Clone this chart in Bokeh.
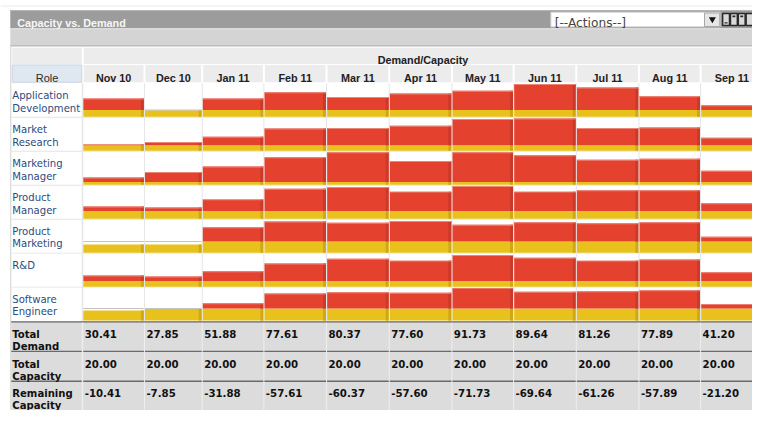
from bokeh.plotting import figure
from bokeh.models import Range1d
from bokeh.core.properties import value
from bokeh.embed import file_html
from bokeh.resources import INLINE

# ---------------- data ----------------
months = ["Nov 10", "Dec 10", "Jan 11", "Feb 11", "Mar 11", "Apr 11",
          "May 11", "Jun 11", "Jul 11", "Aug 11", "Sep 11"]
roles = ["Application Development", "Market Research", "Marketing Manager",
         "Product Manager", "Product Marketing", "R&D", "Software Engineer"]

app_dev = [7.1, 2.5, 7.1, 9.5, 7.7, 9.0, 10.1, 12.7, 11.4, 8.0, 4.5]
market_research = [2.4, 3.4, 5.4, 8.6, 8.8, 9.7, 12.3, 12.5, 8.8, 9.0, 5.0]
marketing_manager = [2.8, 4.9, 7.1, 10.7, 12.6, 9.2, 12.6, 11.4, 9.7, 10.1, 5.4]
product_manager = [4.7, 4.3, 7.5, 11.6, 12.3, 10.5, 12.7, 10.5, 11.0, 11.0, 6.0]
product_marketing = [3.2, 3.2, 9.9, 12.1, 11.6, 12.3, 10.8, 11.8, 11.4, 11.8, 6.2]
rnd = [4.3, 3.9, 6.0, 9.0, 10.8, 10.1, 12.3, 11.2, 10.1, 10.5, 5.6]
software_engineer = [3.9, 4.5, 6.7, 10.5, 11.0, 10.8, 12.7, 11.2, 11.4, 11.8, 6.4]
role_capacity = [2.6, 2.1, 1.1, 3.0, 4.3, 2.2, 4.7]

total_demand = [30.41, 27.85, 51.88, 77.61, 80.37, 77.60, 91.73, 89.64, 81.26, 77.89, 41.20]
total_capacity = [20.00, 20.00, 20.00, 20.00, 20.00, 20.00, 20.00, 20.00, 20.00, 20.00, 20.00]
remaining_capacity = [round(c - d, 2) for c, d in zip(total_capacity, total_demand)]

role_demand = [app_dev, market_research, marketing_manager, product_manager,
               product_marketing, rnd, software_engineer]

# ---------------- layout ----------------
X_EDGES = [84, 147, 206, 269, 333, 397, 461, 524, 588, 652, 715, 779]
ROW_TOP0 = 86.0
ROW_H = 35.3
PX_PER_UNIT = 2.675

RED = "#e4412f"
RED_DARK = "#c93a2b"
RED_HI = "#ee8677"
YEL = "#e9c11d"
YEL_DARK = "#cfa817"
GRID = "#e4e4e4"

p = figure(width=752, height=410, output_backend="svg", toolbar_location=None,
           x_range=Range1d(0, 768), y_range=Range1d(426, 0),
           x_axis_type=None, y_axis_type=None, min_border=0)
p.outline_line_color = None
p.grid.visible = False
p.background_fill_color = "white"
p.border_fill_color = "white"


def box(l, r, t, b, color, **kw):
    p.quad(left=[l], right=[r], top=[t], bottom=[b], fill_color=color,
           line_color=None, **kw)


# page top and title bar
box(0, 768, 5.2, 6.2, "#ececec")
box(10, 768, 10, 29, "#9c9c9c")
box(10, 768, 10, 11, "#b4b4b4")
box(10, 768, 29, 47, "#d4d4d4")
box(10, 768, 29, 30, "#e6e6e6")
box(10, 768, 46.5, 47.8, "#b5b5b5")

p.text(x=[17], y=[23.5], text=["Capacity vs. Demand"], text_color="#f7f7f7",
       text_font=value("Liberation Sans"), text_font_size="10.8px",
       text_font_style="bold", text_baseline="alphabetic")

# actions dropdown and window icons
p.quad(left=[562], right=[735], top=[12], bottom=[27.5], fill_color="white",
       line_color="#c4c4c4", line_width=1)
p.quad(left=[719], right=[734.5], top=[13], bottom=[27], fill_color="#e6e6e6",
       line_color="#a8a8a8", line_width=1)
p.scatter(x=[727], y=[19.5], marker="inverted_triangle", size=7,
          fill_color="#111111", line_color=None)
p.text(x=[566], y=[23.5], text=["[--Actions--]"], text_color="#444444",
       text_font=value("DejaVu Sans"), text_font_size="12.2px",
       text_baseline="alphabetic")
for l in [737.5, 745.5, 753.5, 761.5]:
    p.quad(left=[l], right=[l + 7], top=[13.5], bottom=[26], fill_color="#d9d9d9",
           line_color="#2a2a2a", line_width=1.5)
box(739.5, 742.5, 22.5, 24, "#2a2a2a")
box(747.5, 750.5, 15.5, 17.5, "#2a2a2a")
box(755.5, 758.5, 15.5, 17.5, "#2a2a2a")

# header cells
box(12, 83, 49, 66, "#ececec")
box(85, 768, 49, 66, "#ececec")
p.quad(left=[12], right=[83], top=[67], bottom=[85], fill_color="#dfe7f1",
       line_color="#cbd5e2", line_width=1)
hl = [X_EDGES[j] + 1 for j in range(len(months))]
hr = [X_EDGES[j + 1] - 1 for j in range(len(months))]
p.quad(left=hl, right=hr, top=[67] * len(months), bottom=[85] * len(months),
       fill_color="#ececec", line_color=None)

p.text(x=[(X_EDGES[0] + X_EDGES[-1]) / 2], y=[62.3], text=["Demand/Capacity"],
       text_color="#222222", text_font=value("Liberation Sans"),
       text_font_size="10.8px", text_font_style="bold", text_align="center",
       text_baseline="alphabetic")
p.text(x=[47.5], y=[80.7], text=["Role"], text_color="#2b2b2b",
       text_font=value("Liberation Sans"), text_font_size="11px",
       text_align="center", text_baseline="alphabetic")
p.text(x=[(X_EDGES[j] + X_EDGES[j + 1]) / 2 for j in range(len(months))],
       y=[81] * len(months), text=months, text_color="#222222",
       text_font=value("Liberation Sans"), text_font_size="10.8px",
       text_font_style="bold", text_align="center", text_baseline="alphabetic")

# data grid
n_rows = len(roles)
row_tops = [ROW_TOP0 + i * ROW_H for i in range(n_rows + 1)]
box(10, 11, 47.8, 426, "#d0d0d0")
for t in row_tops[1:-1]:
    box(11, 768, t - 0.5, t + 0.5, GRID)
for xe in [83.5] + X_EDGES[:-1]:
    box(xe - 0.5, xe + 0.5, ROW_TOP0, row_tops[-1], GRID)

# bars
red = dict(l=[], r=[], t=[], b=[])
redhi = dict(l=[], r=[], t=[], b=[])
reddk = dict(l=[], r=[], t=[], b=[])
yel = dict(l=[], r=[], t=[], b=[])
yeldk = dict(l=[], r=[], t=[], b=[])
capl = dict(l=[], r=[], t=[], b=[])


def add(d, l, r, t, b):
    d["l"].append(l); d["r"].append(r); d["t"].append(t); d["b"].append(b)


for i, series in enumerate(role_demand):
    base = row_tops[i + 1] - 0.5
    cap_px = role_capacity[i] * PX_PER_UNIT
    for j, dv in enumerate(series):
        l = X_EDGES[j] + 0.6
        r = X_EDGES[j + 1] - 0.6
        d_px = min(dv * PX_PER_UNIT, ROW_H - 1.2)
        ytop = base - min(d_px, cap_px)
        add(yel, l, r, ytop, base)
        add(yeldk, r - 3, r, ytop, base)
        if d_px > cap_px:
            rt = base - d_px
            add(red, l, r, rt, base - cap_px)
            add(reddk, r - 3, r, rt, base - cap_px)
            add(redhi, l, r, rt, rt + 1)
        else:
            add(capl, l, r, base - cap_px - 0.5, base - cap_px + 0.5)

for d, c in [(yel, YEL), (yeldk, YEL_DARK), (red, RED), (reddk, RED_DARK),
             (redhi, RED_HI), (capl, "#c4c4c4")]:
    p.quad(left=d["l"], right=d["r"], top=d["t"], bottom=d["b"],
           fill_color=c, line_color=None)

# role labels
l1, l2, y1, y2 = [], [], [], []
for i, name in enumerate(roles):
    parts = name.split(" ", 1)
    l1.append(parts[0]); y1.append(row_tops[i] + 12.8)
    if len(parts) > 1:
        l2.append(parts[1]); y2.append(row_tops[i] + 25.8)
p.text(x=[12] * len(l1), y=y1, text=l1, text_color="#2c4b7e",
       text_font=value("DejaVu Sans"), text_font_size="10.1px",
       text_baseline="alphabetic")
p.text(x=[12] * len(l2), y=y2, text=l2, text_color="#2c4b7e",
       text_font=value("DejaVu Sans"), text_font_size="10.1px",
       text_baseline="alphabetic")

# summary rows
sum_top = row_tops[-1]
box(11, 768, sum_top, 426, "#dcdcdc")
box(11, 768, sum_top, sum_top + 1.8, "#8a8a8a")
box(11, 768, 363.8, 365.3, "#6a6a6a")
box(11, 768, 394.8, 396.3, "#6a6a6a")
for xe in [83.5] + X_EDGES[:-1]:
    box(xe - 0.5, xe + 0.5, sum_top + 1.8, 426, "#efefef")

summary_labels = [("Total", "Demand"), ("Total", "Capacity"), ("Remaining", "Capacity")]
summary_values = [total_demand, total_capacity, remaining_capacity]
sum_base = [346.8, 377.8, 408.2]
for k in range(3):
    p.text(x=[12, 12], y=[sum_base[k], sum_base[k] + 12.6],
           text=list(summary_labels[k]), text_color="#111111",
           text_font=value("DejaVu Sans"), text_font_size="10.1px",
           text_font_style="bold", text_baseline="alphabetic")
    p.text(x=[X_EDGES[j] + 2 for j in range(len(months))],
           y=[sum_base[k]] * len(months),
           text=["%.2f" % v for v in summary_values[k]], text_color="#111111",
           text_font=value("DejaVu Sans"), text_font_size="10.2px",
           text_font_style="bold", text_baseline="alphabetic")

open("out.html", "w").write(file_html(p, INLINE))
